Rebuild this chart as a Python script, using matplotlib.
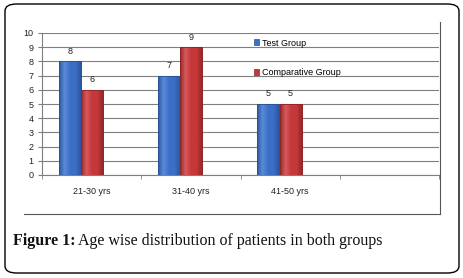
import matplotlib
matplotlib.use("Agg")
import numpy as np
from matplotlib import pyplot as plt
from matplotlib.patches import FancyBboxPatch, Patch
from matplotlib.lines import Line2D
from matplotlib.colors import LinearSegmentedColormap

# data
categories = ["21-30 yrs", "31-40 yrs", "41-50 yrs", ""]
test_group = [8, 7, 5]
comparative_group = [6, 9, 5]
series_names = ["Test Group", "Comparative Group"]
yticks = list(range(0, 11))

W, H = 464, 278
BLUE, BLUE_EDGE = "#3b6fc6", "#2a4f93"
RED, RED_EDGE = "#c5383a", "#8e2426"
GRID = "#7f7f7f"


def px(x, y):
    # pixel coords (top-left origin) -> figure fraction
    return x / W, 1 - y / H


def shade(ax, bars, dark, mid, light):
    # fake the excel cylinder look: horizontal gradient clipped to each bar
    cmap = LinearSegmentedColormap.from_list("g", [dark, light, mid, mid, dark])
    grad = np.linspace(0, 1, 64).reshape(1, -1)
    for b in bars:
        x0, y0 = b.get_x(), b.get_y()
        im = ax.imshow(grad, cmap=cmap, aspect="auto", zorder=3.5,
                       extent=(x0, x0 + b.get_width(), y0, y0 + b.get_height()))
        im.set_clip_path(b)


fig = plt.figure(figsize=(W / 100, H / 100), dpi=100)
fig.patch.set_facecolor("white")

# rounded outer frame
frame = FancyBboxPatch(px(5, 273), (459 - 5) / W, (273 - 4) / H,
                       boxstyle="round,pad=0,rounding_size=0.025",
                       transform=fig.transFigure, fill=False,
                       edgecolor="black", linewidth=1.0)
fig.add_artist(frame)

# inner chart box (right and bottom edges only visible)
fig.add_artist(Line2D([24 / W, 440 / W], [1 - 214 / H, 1 - 214 / H],
                      transform=fig.transFigure, color="#555555", lw=0.8))
fig.add_artist(Line2D([440 / W, 440 / W], [1 - 214 / H, 1 - 22 / H],
                      transform=fig.transFigure, color="#555555", lw=0.8))

left, right, top, bottom = 42, 439, 33, 175
ax = fig.add_axes([left / W, 1 - bottom / H, (right - left) / W, (bottom - top) / H])

n = len(test_group)
xs = list(range(n))
bw = 0.22
bx_test = [x - 0.22 for x in xs]
bx_comp = [x + 0.005 for x in xs]

b1 = ax.bar(bx_test, test_group, width=bw, color=BLUE, edgecolor=BLUE_EDGE,
            linewidth=0.6, zorder=3, label=series_names[0])
b2 = ax.bar(bx_comp, comparative_group, width=bw, color=RED, edgecolor=RED_EDGE,
            linewidth=0.6, zorder=3, label=series_names[1])
shade(ax, b1, "#2d589f", "#3b6fc6", "#5b8ad8")
shade(ax, b2, "#96282a", "#c5383a", "#d85a5c")
for b in list(b1) + list(b2):
    ax.add_patch(plt.Rectangle((b.get_x(), 0), b.get_width(), b.get_height(),
                               fill=False, edgecolor=b.get_edgecolor(),
                               lw=0.6, zorder=4))

for x, v in zip(bx_test, test_group):
    ax.text(x, v + 0.4, str(v), ha="center", va="bottom", fontsize=6.5,
            family="Liberation Sans", color="#222222")
for x, v in zip(bx_comp, comparative_group):
    ax.text(x, v + 0.4, str(v), ha="center", va="bottom", fontsize=6.5,
            family="Liberation Sans", color="#222222")

ax.set_xlim(-0.5, len(categories) - 0.5)
ax.set_ylim(0, 10)
ax.set_yticks(yticks)
ax.set_xticks(range(len(categories)))
ax.set_xticklabels(categories)
ax.set_xticks([i - 0.5 for i in range(len(categories) + 1)], minor=True)
ax.tick_params(axis="x", which="major", length=0, pad=9)
ax.tick_params(axis="x", which="minor", length=3, color=GRID, direction="out")
ax.tick_params(axis="y", length=3, color=GRID, pad=3)
for lab in ax.get_xticklabels() + ax.get_yticklabels():
    lab.set_fontsize(6.5)
    lab.set_family("Liberation Sans")
    lab.set_color("#222222")

ax.yaxis.grid(True, color=GRID, linewidth=0.8, zorder=0)
ax.set_axisbelow(True)
for s in ["top", "right"]:
    ax.spines[s].set_visible(False)
ax.spines["left"].set_color(GRID)
ax.spines["bottom"].set_color(GRID)
ax.spines["left"].set_linewidth(0.8)
ax.spines["bottom"].set_linewidth(0.8)

handles = [Patch(facecolor=BLUE, edgecolor=BLUE_EDGE, lw=0.5),
           Patch(facecolor=RED, edgecolor=RED_EDGE, lw=0.5)]
leg = fig.legend(handles, series_names, loc="upper left",
                 bbox_to_anchor=px(249, 34), frameon=False,
                 prop={"family": "Liberation Sans", "size": 6.5},
                 handlelength=0.6, handleheight=0.6, handletextpad=0.3,
                 labelspacing=2.3, borderpad=0)

# caption with bold "Figure 1:"
t1 = fig.text(13 / W, 1 - 241 / H, "Figure 1:", fontsize=11.5,
              family="Liberation Serif", weight="bold", va="center",
              color="#111111")
fig.canvas.draw()
bb = t1.get_window_extent()
fig.text((bb.x1 + 3) / W, 1 - 241 / H, "Age wise distribution of patients in both groups",
         fontsize=11.5, family="Liberation Serif", va="center", color="#111111")

fig.savefig("out.png", dpi=100)
